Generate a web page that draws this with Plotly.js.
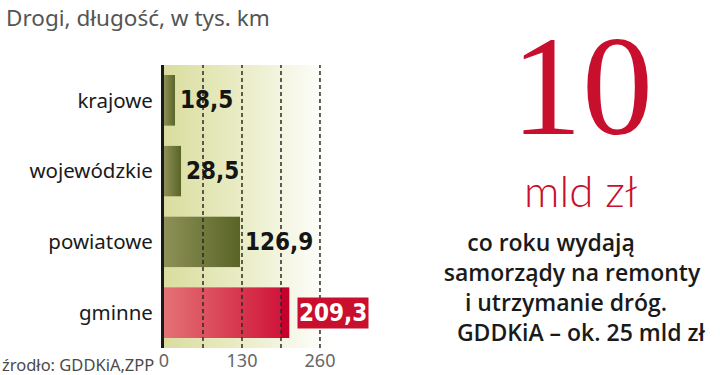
<!DOCTYPE html>
<html>
<head>
<meta charset="utf-8">
<script src="https://cdn.plot.ly/plotly-3.0.1.min.js"></script>
<style>html,body{margin:0;padding:0;background:#fff;}#chart{width:720px;height:375px;}</style>
</head>
<body>
<div id="chart"></div>
<script>
// ---- data ----
const categories = ["krajowe", "wojewódzkie", "powiatowe", "gminne"];
const values = [18.5, 28.5, 126.9, 209.3];
const valueLabels = ["18,5", "28,5", "126,9", "209,3"];
const tickValues = [0, 130, 260];
const tickLabels = ["0", "130", "260"];
const gridValues = [65, 130, 195, 260];
const chartTitle = "Drogi, długość, w tys. km";
const sourceText = "źrodło: GDDKiA,ZPP";
const bigNumber = "10";
const bigUnit = "mld zł";
const bodyLines = ["co roku wydają", "samorządy na remonty", "i utrzymanie dróg.", "GDDKiA – ok. 25 mld zł"];

// ---- layout helpers ----
const L = 164, R = 330, T = 65, B = 348, W = 720, H = 375;
const px = x => (x - L) / (R - L);
const py = y => (B - y) / (B - T);
const xMax = 276.7;

function gradURI(stops) {
  let s = '<svg xmlns="http://www.w3.org/2000/svg" width="100" height="100" viewBox="0 0 100 100" preserveAspectRatio="none">' +
    '<defs><linearGradient id="g" x1="0" y1="0" x2="1" y2="0">';
  stops.forEach(st => { s += '<stop offset="' + st[0] + '" stop-color="' + st[1] + '"/>'; });
  s += '</linearGradient></defs><rect x="0" y="0" width="100" height="100" fill="url(#g)"/></svg>';
  return 'data:image/svg+xml;charset=utf-8,' + encodeURIComponent(s);
}
const oliveGrad = gradURI([[0, '#8d9157'], [1, '#5a6426']]);
const redGrad = gradURI([[0, '#e37274'], [0.93, '#d0163b'], [0.935, '#c5002d'], [1, '#c5002d']]);
const bgGrad = gradURI([[0, '#dadd9e'], [0.45, '#e9ecc4'], [0.8, '#f7f8ea'], [1, '#ffffff']]);

const trace = {
  type: 'bar', orientation: 'h',
  x: values, y: categories,
  width: 0.72,
  marker: { color: 'rgba(0,0,0,0)', line: { width: 0 } },
  hoverinfo: 'skip', textposition: 'none'
};

const images = [{
  source: bgGrad, xref: 'paper', yref: 'paper', x: 0, y: 1, sizex: 1, sizey: 1,
  xanchor: 'left', yanchor: 'top', sizing: 'stretch', layer: 'below'
}];
values.forEach((v, i) => {
  images.push({
    source: i === 3 ? redGrad : oliveGrad, xref: 'x', yref: 'y',
    x: 0, y: i, sizex: v, sizey: 0.72, xanchor: 'left', yanchor: 'middle',
    sizing: 'stretch', layer: 'above'
  });
});

const shapes = gridValues.map(g => ({
  type: 'line', xref: 'x', yref: 'paper', x0: g, x1: g, y0: 0, y1: 1,
  line: { color: '#2a2a2a', width: 1.5, dash: '4px,3px' }, layer: 'above'
}));

const numFont = { family: 'Liberation Sans Narrow, DejaVu Sans Condensed, Arial Narrow, sans-serif', size: 24, color: '#151515', weight: 'bold' };
const annotations = [];
values.forEach((v, i) => {
  const last = i === 3;
  annotations.push({
    xref: 'x', yref: 'y', x: v, y: i, xanchor: 'left', yanchor: 'middle',
    xshift: last ? 7 : 4, text: '<b>' + valueLabels[i] + '</b>', showarrow: false,
    font: Object.assign({}, numFont, { color: last ? '#ffffff' : '#151515' }),
    bgcolor: last ? '#c8102e' : 'rgba(0,0,0,0)', borderpad: last ? 1 : 0
  });
});
annotations.push({
  xref: 'paper', yref: 'paper', x: px(4), y: py(18), xanchor: 'left', yanchor: 'middle',
  text: chartTitle, showarrow: false, font: { family: 'Noto Sans, sans-serif', size: 22.5, color: '#555' }
});
annotations.push({
  xref: 'paper', yref: 'paper', x: px(0), y: py(364), xanchor: 'left', yanchor: 'middle',
  text: sourceText, showarrow: false, font: { family: 'Noto Sans, sans-serif', size: 16.5, color: '#4a4a4a' }
});
annotations.push({
  xref: 'paper', yref: 'paper', x: px(582), y: py(86), xanchor: 'center', yanchor: 'middle',
  text: bigNumber, showarrow: false, font: { family: 'Liberation Serif, serif', size: 142, color: '#c8102e' }
});
annotations.push({
  xref: 'paper', yref: 'paper', x: px(580), y: py(190), xanchor: 'center', yanchor: 'middle',
  text: bigUnit, showarrow: false, font: { family: 'Lato, Noto Sans, sans-serif', size: 44, color: '#c8102e', weight: 300 }
});
// small per-line offsets (non-breaking spaces) reproduce the uneven centring of the original
const bodyText = [
  bodyLines[0] + '&nbsp;'.repeat(7),
  bodyLines[1],
  bodyLines[2] + '&nbsp;'.repeat(2),
  '&nbsp;'.repeat(3) + bodyLines[3]
].join('<br>');
annotations.push({
  xref: 'paper', yref: 'paper', x: px(572), y: py(287), xanchor: 'center', yanchor: 'middle', align: 'center',
  text: bodyText, showarrow: false, font: { family: 'Open Sans, Noto Sans, sans-serif', size: 23, color: '#1a1a1a', weight: 600 }
});

const layout = {
  width: W, height: H,
  margin: { l: L, r: W - R, t: T, b: H - B, pad: 0 },
  paper_bgcolor: '#ffffff', plot_bgcolor: 'rgba(0,0,0,0)',
  showlegend: false, bargap: 0.28,
  xaxis: {
    range: [0, xMax], tickvals: tickValues, ticktext: tickLabels,
    showgrid: false, zeroline: false, showline: false, ticks: '',
    tickfont: { family: 'Noto Sans, sans-serif', size: 18, color: '#666' }, fixedrange: true
  },
  yaxis: {
    type: 'category', autorange: 'reversed', showgrid: false, zeroline: false,
    showline: true, linecolor: '#1a1a1a', linewidth: 3, ticks: '', ticklabelstandoff: 4,
    tickfont: { family: 'Noto Sans, sans-serif', size: 20.5, color: '#1a1a1a' }, fixedrange: true
  },
  images: images, shapes: shapes, annotations: annotations
};

Plotly.newPlot('chart', [trace], layout, { staticPlot: true, displayModeBar: false });
</script>
</body>
</html>
